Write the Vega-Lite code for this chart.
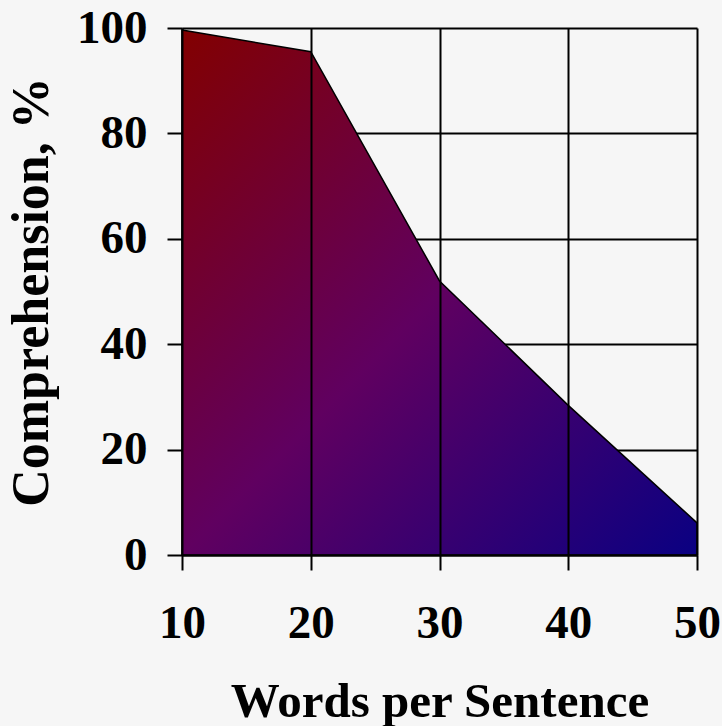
{
  "$schema": "https://vega.github.io/schema/vega-lite/v6.json",
  "autosize": "none",
  "width": 515,
  "height": 527,
  "padding": {"left": 182, "top": 28, "right": 25, "bottom": 171},
  "background": "#f6f6f6",
  "config": {
    "view": {"stroke": null},
    "axis": {
      "labelFont": "Liberation Serif",
      "titleFont": "Liberation Serif",
      "labelFontWeight": "bold",
      "titleFontWeight": "bold",
      "labelColor": "#000",
      "titleColor": "#000",
      "labelFontSize": 47,
      "tickSize": 15,
      "tickColor": "#000",
      "tickWidth": 2,
      "gridColor": "#000",
      "gridWidth": 2,
      "gridOpacity": 1,
      "domainColor": "#000",
      "domainWidth": 2
    }
  },
  "data": {
    "values": [
      {"words": 10, "comp": 99.6},
      {"words": 20, "comp": 95.5},
      {"words": 30, "comp": 52.0},
      {"words": 40, "comp": 28.4},
      {"words": 50, "comp": 6.1}
    ]
  },
  "encoding": {
    "x": {
      "field": "words",
      "type": "quantitative",
      "scale": {"domain": [10, 50], "nice": false, "zero": false},
      "axis": {
        "title": "Words per Sentence",
        "values": [10, 20, 30, 40, 50],
        "zindex": 1,
        "labelBaseline": "alphabetic",
        "labelPadding": 67,
        "labelFlush": false,
        "titleFontSize": 49,
        "titleBaseline": "alphabetic",
        "titleY": 161,
        "titleX": 257.5
      }
    },
    "y": {
      "field": "comp",
      "type": "quantitative",
      "scale": {"domain": [0, 100], "nice": false},
      "axis": {
        "title": "Comprehension, %",
        "values": [0, 20, 40, 60, 80, 100],
        "zindex": 0,
        "labelPadding": 20,
        "labelBaseline": "middle",
        "titleFontSize": 52,
        "titleBaseline": "middle",
        "titleX": -151,
        "titleY": 263.5,
        "titleAngle": -90
      }
    }
  },
  "mark": {
    "type": "area",
    "line": false,
    "stroke": "#000",
    "strokeWidth": 1.5,
    "color": {
      "gradient": "linear",
      "x1": 0, "y1": 0, "x2": 1, "y2": 1,
      "stops": [
        {"offset": 0, "color": "#820000"},
        {"offset": 0.5, "color": "#600060"},
        {"offset": 1, "color": "#0a0082"}
      ]
    }
  }
}
